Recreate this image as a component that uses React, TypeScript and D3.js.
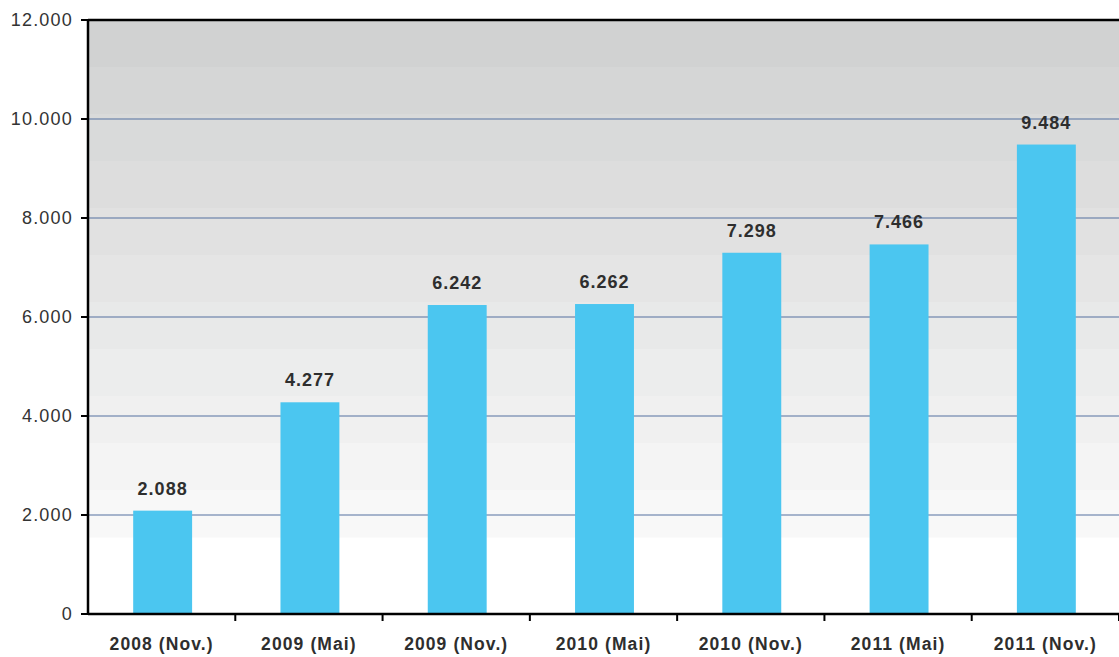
import React from "react";
import * as d3 from "d3";

const categories = ["2008 (Nov.)", "2009 (Mai)", "2009 (Nov.)", "2010 (Mai)", "2010 (Nov.)", "2011 (Mai)", "2011 (Nov.)"];
const values = [2088, 4277, 6242, 6262, 7298, 7466, 9484];
const valueLabels = ["2.088", "4.277", "6.242", "6.262", "7.298", "7.466", "9.484"];
const yTicks = [0, 2000, 4000, 6000, 8000, 10000, 12000];
const yTickLabels = ["0", "2.000", "4.000", "6.000", "8.000", "10.000", "12.000"];

const W = 1119, H = 657;
const M = { left: 88, top: 20, right: 0, bottom: 43 };

export default function App() {
  const x = d3.scaleBand<string>().domain(categories).range([M.left, W - M.right]).paddingInner(0.6).paddingOuter(0.3);
  const xb = d3.scaleBand<string>().domain(categories).range([M.left, W - M.right]);
  const y = d3.scaleLinear().domain([0, 12000]).range([H - M.bottom, M.top]);
  const bandCount = 11;
  const bandTop = M.top;
  const bandBottom = 537;
  const bh = (bandBottom - bandTop) / bandCount;
  const col = d3.interpolateRgb("#d1d2d2", "#f8f8f8");
  const font = "'Liberation Sans', Arial, Helvetica, sans-serif";
  return (
    <svg width={W} height={H} style={{ position: "absolute", left: 0, top: 0, background: "#fff" }}>
      <g>
        {d3.range(bandCount).map((i) => (
          <rect key={i} x={M.left} y={bandTop + i * bh} width={W - M.left} height={bh + 0.5} fill={col(i / (bandCount - 1))} />
        ))}
      </g>
      {yTicks.slice(1, -1).map((t) => (
        <line key={t} x1={M.left} x2={W} y1={y(t)} y2={y(t)} stroke="#5470a0" strokeWidth={1.1} />
      ))}
      {values.map((v, i) => (
        <rect key={i} x={(x(categories[i]) as number) + 1} y={y(v)} width={x.bandwidth()} height={y(0) - y(v)} fill="#4bc6f0" />
      ))}
      {values.map((v, i) => (
        <text key={i} x={(x(categories[i]) as number) + 1 + x.bandwidth() / 2} y={y(v) - 16} textAnchor="middle"
          fontFamily={font} fontWeight="bold" fontSize={18} fill="#2e2e2e" letterSpacing={1}>
          {valueLabels[i]}
        </text>
      ))}
      <line x1={M.left} x2={W} y1={M.top} y2={M.top} stroke="#000" strokeWidth={2.5} />
      <line x1={M.left} x2={M.left} y1={M.top - 1} y2={y(0) + 1} stroke="#000" strokeWidth={2.5} />
      <line x1={M.left} x2={W} y1={y(0)} y2={y(0)} stroke="#000" strokeWidth={2.5} />
      {yTicks.map((t, i) => (
        <g key={t}>
          <line x1={M.left - 7} x2={M.left} y1={y(t)} y2={y(t)} stroke="#000" strokeWidth={2} />
          <text x={M.left - 15} y={y(t)} dy="0.35em" textAnchor="end" fontFamily={font} fontSize={18} fill="#333" letterSpacing={1.2}>
            {yTickLabels[i]}
          </text>
        </g>
      ))}
      {categories.map((c, i) => (
        <g key={c}>
          <line x1={(xb(c) as number) + xb.bandwidth()} x2={(xb(c) as number) + xb.bandwidth()} y1={y(0)} y2={y(0) + 7} stroke="#000" strokeWidth={2} />
          <text x={(xb(c) as number) + xb.bandwidth() / 2} y={650} textAnchor="middle" fontFamily={font} fontWeight="bold" fontSize={17.5} fill="#2e2e2e" letterSpacing={1.1}>
            {c}
          </text>
        </g>
      ))}
    </svg>
  );
}
